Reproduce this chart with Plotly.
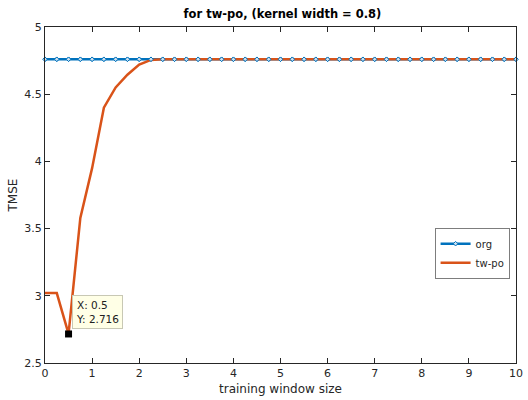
import plotly.graph_objects as go

window_size = [0, 0.25, 0.5, 0.75, 1, 1.25, 1.5, 1.75, 2, 2.25, 2.5, 2.75, 3, 3.25, 3.5, 3.75,
               4, 4.25, 4.5, 4.75, 5, 5.25, 5.5, 5.75, 6, 6.25, 6.5, 6.75, 7, 7.25, 7.5, 7.75,
               8, 8.25, 8.5, 8.75, 9, 9.25, 9.5, 9.75, 10]
org_tmse = [4.76] * 41
twpo_tmse = [3.02, 3.02, 2.716, 3.58, 3.95, 4.40, 4.55, 4.645, 4.72, 4.755, 4.76,
             4.76, 4.76, 4.76, 4.76, 4.76, 4.76, 4.76, 4.76, 4.76, 4.76,
             4.76, 4.76, 4.76, 4.76, 4.76, 4.76, 4.76, 4.76, 4.76, 4.76,
             4.76, 4.76, 4.76, 4.76, 4.76, 4.76, 4.76, 4.76, 4.76, 4.76]
tip_x = 0.5
tip_y = 2.716
x_ticks = [0, 1, 2, 3, 4, 5, 6, 7, 8, 9, 10]
y_ticks = [2.5, 3, 3.5, 4, 4.5, 5]
y_ticklabels = ["2.5", "3", "3.5", "4", "4.5", "5"]

BLUE = "#0072BD"
ORANGE = "#D95319"
TXT = "#262626"
FONT = "DejaVu Sans"
MK = dict(symbol="diamond", size=3.5, color="#cfe0ee", line=dict(color=BLUE, width=1))

fig = go.Figure()
fig.add_trace(go.Scatter(
    x=window_size, y=org_tmse, name="org", mode="lines+markers",
    line=dict(color=BLUE, width=2.5), marker=MK,
))
fig.add_trace(go.Scatter(
    x=window_size, y=twpo_tmse, name="tw-po", mode="lines",
    line=dict(color=ORANGE, width=2.5),
))
fig.add_trace(go.Scatter(
    x=window_size, y=org_tmse, mode="markers", showlegend=False, cliponaxis=False,
    marker=MK, hoverinfo="skip",
))
fig.add_trace(go.Scatter(
    x=[tip_x], y=[tip_y], mode="markers", showlegend=False, cliponaxis=False,
    marker=dict(symbol="square", size=7, color="black"),
))

fig.add_annotation(
    x=tip_x + 0.08, y=tip_y + 0.04, xref="x", yref="y",
    xanchor="left", yanchor="bottom", showarrow=False, align="left",
    text=f"X: {tip_x}<br>Y: {tip_y}",
    font=dict(family=FONT, size=10.5, color="#202020"),
    bgcolor="#ffffe6", bordercolor="#c8c8b4", borderwidth=1, borderpad=3,
)

axis_common = dict(
    showgrid=False, zeroline=False, showline=True, linecolor=TXT, linewidth=1,
    mirror="ticks", ticks="inside", ticklen=5, tickcolor=TXT, tickwidth=1,
    tickfont=dict(family=FONT, size=11, color=TXT), automargin=False,
)

fig.update_layout(
    width=528, height=400,
    margin=dict(l=45, r=12, t=27, b=37),
    paper_bgcolor="white", plot_bgcolor="white",
    title=dict(text="<b>for tw-po, (kernel width = 0.8)</b>", x=0.535, xanchor="center",
               y=0.965, yanchor="middle",
               font=dict(family=FONT, size=11.5, color="black"), automargin=False),
    xaxis=dict(range=[0, 10], tickvals=x_ticks,
               title=dict(text="training window size", standoff=5,
                          font=dict(family=FONT, size=12, color=TXT)),
               **axis_common),
    yaxis=dict(range=[2.5, 5], tickvals=y_ticks, ticktext=y_ticklabels,
               title=dict(text="TMSE", standoff=4,
                          font=dict(family=FONT, size=12, color=TXT)),
               **axis_common),
    legend=dict(x=0.828, y=0.40, xanchor="left", yanchor="top",
                bgcolor="white", bordercolor="#262626", borderwidth=0.6,
                font=dict(family=FONT, size=10, color=TXT),
                tracegroupgap=0, itemwidth=30),
    showlegend=True,
)

fig.write_html("out.html")
